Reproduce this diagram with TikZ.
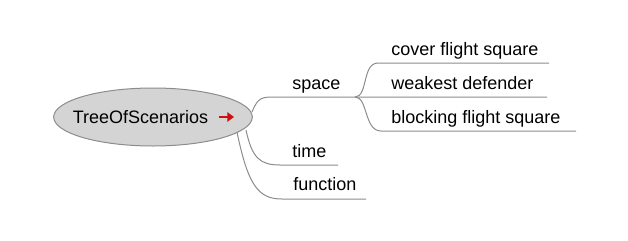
\documentclass[tikz,border=0pt]{standalone}
\usepackage{fontspec}
\usetikzlibrary{shapes.geometric,arrows.meta}
\setmainfont{Liberation Sans}
\definecolor{edgegray}{HTML}{8C8C8C}
\definecolor{rootfill}{HTML}{D4D4D4}
\definecolor{arrowred}{HTML}{D01010}
\begin{document}
\begin{tikzpicture}[x=0.75pt,y=-0.75pt,
  lbl/.style={anchor=base west,inner sep=0pt,font=\fontsize{13.5pt}{16pt}\selectfont},
  edge/.style={draw=edgegray,line width=0.75pt}]
\useasboundingbox (0,0) rectangle (628,240);
\node[ellipse,draw=edgegray,fill=rootfill,line width=0.75pt,minimum width=149pt,minimum height=43.5pt,inner sep=0pt] (root) at (153,117) {};
\node[anchor=base,inner sep=0pt,font=\fontsize{13.5pt}{16pt}\selectfont] (rootlbl) at (140.5,123) {TreeOfScenarios};
% red arrow icon
\coordinate (a0) at (219,117);
\coordinate (a1) at (234,117);
\draw[arrowred,line width=2.2pt,-{Triangle[length=5pt,width=7pt]}] (a0) -- (a1);
% first-level labels
\node[lbl] (space) at (292,89) {space};
\node[lbl] (time) at (292,157) {time};
\node[lbl] (function) at (293,190) {function};
% second-level labels
\node[lbl] (cover) at (391,55) {cover flight square};
\node[lbl] (weak) at (391,89) {weakest defender};
\node[lbl] (block) at (391,123) {blocking flight square};
% coordinates
\coordinate (s0) at (252,112);
\coordinate (s1) at (355,97);
\coordinate (t0) at (246,130);
\coordinate (f0) at (237,132);
% connectors
\draw[edge] (s0) .. controls (258,97) and (262,97) .. (276,97) -- (s1) -- (547,97);
\draw[edge] (t0) .. controls (252,158) and (260,165) .. (280,165) -- (338,165);
\draw[edge] (f0) .. controls (248,185) and (258,199) .. (282,199) -- (366,199);
\draw[edge] (s1) .. controls (368,97) and (362,63) .. (378,63) -- (549,63);
\draw[edge] (s1) .. controls (368,97) and (364,131) .. (381,131) -- (576,131);
\end{tikzpicture}
\end{document}
